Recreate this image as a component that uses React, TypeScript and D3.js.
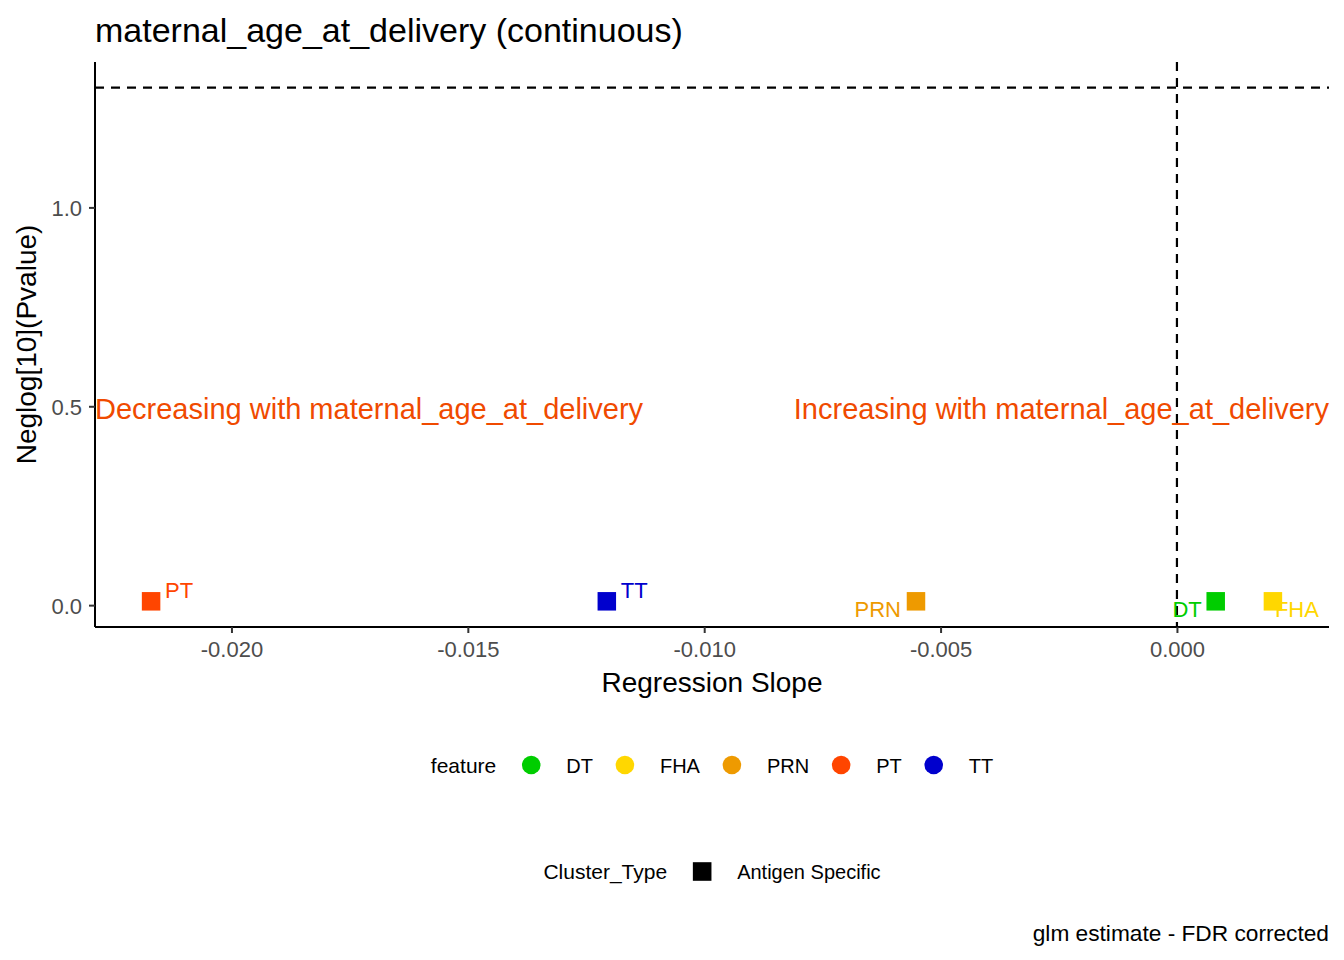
import React, { useEffect, useRef } from "react";
import * as d3 from "d3";

// data
const features = ["DT", "FHA", "PRN", "PT", "TT"];
const featureColors = ["#00CD00", "#FFD700", "#EE9A00", "#FF4500", "#0000CD"];
const slopes = [0.00082, 0.00203, -0.00552, -0.0217, -0.01206];
const neglogP = [0.0096, 0.0096, 0.0096, 0.0096, 0.0096];
const xTicks = [-0.02, -0.015, -0.01, -0.005, 0];
const yTicks = [0, 0.5, 1.0];
const pThreshold = -Math.log10(0.05);
const clusterTypes = ["Antigen Specific"];

// repel-like label placement (px offsets from point centre, text baseline)
const labelOffset: Record<string, [number, number, string]> = {
    DT: [-14, 16, "end"],
    FHA: [2, 16, "start"],
    PRN: [-15, 16, "end"],
    PT: [14, -3, "start"],
    TT: [14, -3, "start"],
};

const W = 1344;
const H = 960;
const FONT = "'Liberation Sans', Arial, sans-serif";
const ANNOT = "#F04A00";

const VolcanoChart = () => {
    const ref = useRef<SVGSVGElement>(null);

    useEffect(() => {
        if (!ref.current) return;
        d3.select(ref.current).selectAll("*").remove();
        const svg = d3.select(ref.current).attr("width", W).attr("height", H);

        const left = 95;
        const right = 1329;
        const top = 62;
        const bottom = 627;

        const pad = (lo: number, hi: number) => {
            const e = (hi - lo) * 0.05;
            return [lo - e, hi + e];
        };
        const xs = [...slopes, 0];
        const ys = [...neglogP, pThreshold];
        const x = d3
            .scaleLinear()
            .domain(pad(d3.min(xs)!, d3.max(xs)!))
            .range([left, right]);
        const y = d3
            .scaleLinear()
            .domain(pad(d3.min(ys)!, d3.max(ys)!))
            .range([bottom, top]);

        const fmt = (f: string) => (d: d3.NumberValue) =>
            d3.format(f)(d as number).replace("\u2212", "-");

        // reference lines
        svg.append("line")
            .attr("x1", left)
            .attr("x2", right)
            .attr("y1", y(pThreshold))
            .attr("y2", y(pThreshold))
            .attr("stroke", "black")
            .attr("stroke-width", 2.2)
            .attr("stroke-dasharray", "9,7");
        svg.append("line")
            .attr("x1", x(0))
            .attr("x2", x(0))
            .attr("y1", top)
            .attr("y2", bottom)
            .attr("stroke", "black")
            .attr("stroke-width", 2.2)
            .attr("stroke-dasharray", "9,7");

        // axes
        const xAxis = d3
            .axisBottom(x)
            .tickValues(xTicks)
            .tickFormat(fmt(".3f"))
            .tickSize(6)
            .tickSizeOuter(0)
            .tickPadding(8);
        const gx = svg
            .append("g")
            .attr("transform", `translate(0,${bottom})`)
            .call(xAxis);
        const yAxis = d3
            .axisLeft(y)
            .tickValues(yTicks)
            .tickFormat(fmt(".1f"))
            .tickSize(6)
            .tickSizeOuter(0)
            .tickPadding(7);
        const gy = svg
            .append("g")
            .attr("transform", `translate(${left},0)`)
            .call(yAxis);

        [gx, gy].forEach((g) => {
            g.select(".domain").attr("stroke", "black").attr("stroke-width", 2);
            g.selectAll(".tick line").attr("stroke", "#333333").attr("stroke-width", 2);
            g.selectAll(".tick text")
                .attr("fill", "#4D4D4D")
                .attr("font-family", FONT)
                .attr("font-size", 22);
        });
        gx.select(".domain").attr("d", `M${left},0H${right}`);
        gy.select(".domain").attr("d", `M0,${top}V${bottom}`);
        gy.selectAll(".tick text").attr("dy", "0.36em");

        // annotations
        svg.append("text")
            .attr("x", left)
            .attr("y", y(0.5) + 13)
            .attr("font-family", FONT)
            .attr("font-size", 29)
            .attr("fill", ANNOT)
            .text("Decreasing with maternal_age_at_delivery");
        svg.append("text")
            .attr("x", right)
            .attr("y", y(0.5) + 13)
            .attr("text-anchor", "end")
            .attr("font-family", FONT)
            .attr("font-size", 29)
            .attr("fill", ANNOT)
            .text("Increasing with maternal_age_at_delivery");

        // points
        const color = d3.scaleOrdinal<string>().domain(features).range(featureColors);
        const data = features.map((f, i) => ({ f, sx: slopes[i], p: neglogP[i] }));
        const s = 18.5;
        svg.selectAll(".pt")
            .data(data)
            .enter()
            .append("rect")
            .attr("x", (d) => x(d.sx) - s / 2)
            .attr("y", (d) => y(d.p) - s / 2)
            .attr("width", s)
            .attr("height", s)
            .attr("fill", (d) => color(d.f));

        svg.selectAll(".lbl")
            .data(data)
            .enter()
            .append("text")
            .attr("x", (d) => x(d.sx) + labelOffset[d.f][0])
            .attr("y", (d) => y(d.p) + labelOffset[d.f][1])
            .attr("text-anchor", (d) => labelOffset[d.f][2])
            .attr("font-family", FONT)
            .attr("font-size", 22)
            .attr("fill", (d) => color(d.f))
            .text((d) => d.f);

        // titles
        svg.append("text")
            .attr("x", left)
            .attr("y", 42)
            .attr("font-family", FONT)
            .attr("font-size", 34)
            .attr("fill", "black")
            .text("maternal_age_at_delivery (continuous)");
        svg.append("text")
            .attr("x", (left + right) / 2)
            .attr("y", 692)
            .attr("text-anchor", "middle")
            .attr("font-family", FONT)
            .attr("font-size", 28)
            .attr("fill", "black")
            .text("Regression Slope");
        svg.append("text")
            .attr("transform", `translate(36,${(top + bottom) / 2}) rotate(-90)`)
            .attr("text-anchor", "middle")
            .attr("font-family", FONT)
            .attr("font-size", 28)
            .attr("fill", "black")
            .text("Neglog[10](Pvalue)");
        svg.append("text")
            .attr("x", right)
            .attr("y", 941)
            .attr("text-anchor", "end")
            .attr("font-family", FONT)
            .attr("font-size", 22.7)
            .attr("fill", "black")
            .text("glm estimate - FDR corrected");

        // legends
        const legend = (
            title: string,
            labels: string[],
            cy: number,
            key: (g: d3.Selection<SVGGElement, unknown, null, undefined>, i: number) => void
        ) => {
            const g = svg.append("g");
            const t = g
                .append("text")
                .attr("x", 0)
                .attr("y", cy + 7.5)
                .attr("font-family", FONT)
                .attr("font-size", 21)
                .attr("fill", "black")
                .text(title);
            let cx = (t.node() as SVGTextElement).getComputedTextLength() + 35;
            labels.forEach((lab, i) => {
                const kg = g.append("g").attr("transform", `translate(${cx},${cy})`);
                key(kg, i);
                const lt = g
                    .append("text")
                    .attr("x", cx + 35)
                    .attr("y", cy + 7.5)
                    .attr("font-family", FONT)
                    .attr("font-size", 20)
                    .attr("fill", "black")
                    .text(lab);
                const end = cx + 35 + (lt.node() as SVGTextElement).getComputedTextLength();
                cx = end + 32;
            });
            const total = cx - 32;
            g.attr("transform", `translate(${(left + right) / 2 - total / 2},0)`);
        };

        legend("feature", features, 765, (kg, i) => {
            kg.append("circle").attr("r", 9.3).attr("fill", featureColors[i]);
        });
        legend("Cluster_Type", clusterTypes, 871.5, (kg) => {
            kg.append("rect")
                .attr("x", -9.3)
                .attr("y", -9.3)
                .attr("width", 18.6)
                .attr("height", 18.6)
                .attr("fill", "black");
        });
    }, []);

    return (
        <svg
            ref={ref}
            style={{ position: "absolute", left: 0, top: 0, background: "white" }}
        />
    );
};

export default function App() {
    return <VolcanoChart />;
}
